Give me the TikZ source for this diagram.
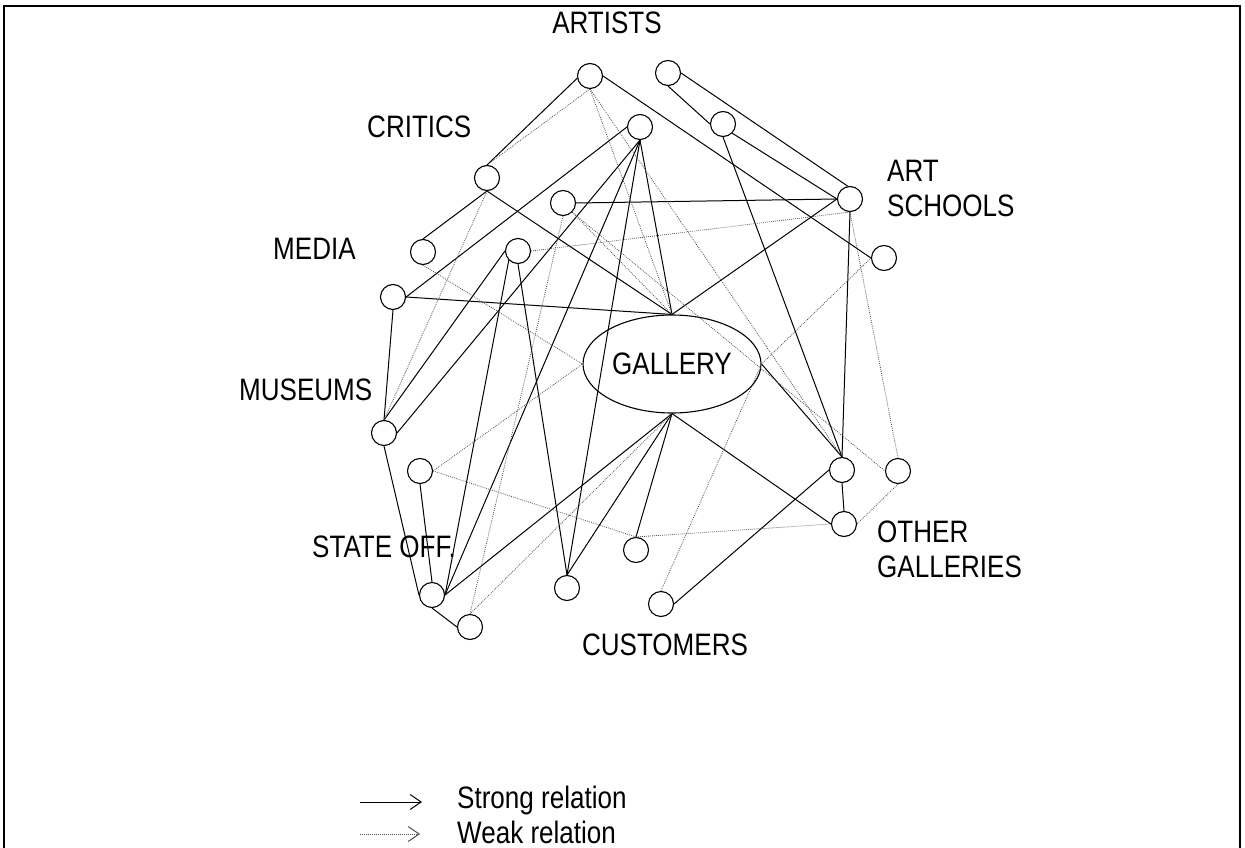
\documentclass[tikz,border=0pt]{standalone}
\usepackage{fontspec}
\setmainfont{Liberation Sans}[FakeStretch=0.84]
\usetikzlibrary{arrows.meta,shapes.geometric}

\begin{document}
\begin{tikzpicture}[x=1pt,y=-1pt,
  actor/.style={circle,draw,line width=1.1pt,minimum size=25pt,inner sep=0pt},
  hub/.style={ellipse,draw,line width=1.1pt,minimum width=178pt,minimum height=98pt,inner sep=0pt,
    font=\fontsize{31}{35}\selectfont},
  strong/.style={line width=1pt},
  weak/.style={line width=0.8pt,dash pattern=on 0.8pt off 1.2pt,black!70},
  lbl/.style={font=\fontsize{31}{35}\selectfont,inner sep=0pt}]
\useasboundingbox (0,0) rectangle (1245,848);

% frame
\draw[line width=2pt] (4,848) -- (4,6) -- (1240,6) -- (1240,848);

% the gallery
\node[hub] (G) at (672,364) {GALLERY};

% artists
\node[actor] (A1) at (590,76) {};
\node[actor] (A2) at (668,73) {};
\node[actor] (A3) at (723,124) {};
\node[actor] (A4) at (640,127) {};
% art schools
\node[actor] (AS1) at (850,199) {};
\node[actor] (AS2) at (884,258) {};
% critics
\node[actor] (C1) at (487,178) {};
\node[actor] (C2) at (563,203) {};
% media
\node[actor] (M1) at (423,252) {};
\node[actor] (M2) at (518,251) {};
\node[actor] (M3) at (393,297) {};
% museums
\node[actor] (MU1) at (384,433) {};
\node[actor] (MU2) at (420,471) {};
% state officials
\node[actor] (SO1) at (432,595) {};
\node[actor] (SO2) at (470,627) {};
% customers
\node[actor] (CU1) at (567,588) {};
\node[actor] (CU2) at (636,550) {};
\node[actor] (CU3) at (661,604) {};
% other galleries
\node[actor] (OG1) at (842,470) {};
\node[actor] (OG2) at (898,471) {};
\node[actor] (OG3) at (844,524) {};

% group labels (base anchor of a two-line label sits on its last line)
\node[lbl,anchor=base] (tArtists) at (607,34) {ARTISTS};
\node[lbl,anchor=base west] (tCritics) at (367,138) {CRITICS};
\node[lbl,anchor=base west,align=left] (tSchools) at (887,216) {ART\\SCHOOLS};
\node[lbl,anchor=base west] (tMedia) at (273,259) {MEDIA};
\node[lbl,anchor=base west] (tMuseums) at (239,400) {MUSEUMS};
\node[lbl,anchor=base west] (tState) at (312,557) {STATE OFF.};
\node[lbl,anchor=base west,align=left] (tOther) at (877,577) {OTHER\\GALLERIES};
\node[lbl,anchor=base] (tCustomers) at (665,655) {CUSTOMERS};

% strong relations
\draw[strong] (A1.190) -- (C1.north);
\draw[strong] (A1.east) -- (AS2.west);
\draw[strong] (A2.south) -- (A3.west);
\draw[strong] (A2.east) -- (AS1.100);
\draw[strong] (A3.south east) -- (AS1.west);
\draw[strong] (A3.south) -- (OG1.north);
\draw[strong] (A4.west) -- (M3.east);
\draw[strong] (A4.south) -- (MU1.east);
\draw[strong] (A4.south) -- (SO1.east);
\draw[strong] (A4.south) -- (CU1.north);
\draw[strong] (A4.south) -- (G.north);
\draw[strong] (C1.south) -- (M1.north);
\draw[strong] (C1.south) -- (G.north);
\draw[strong] (C2.east) -- (AS1.west);
\draw[strong] (M3.east) -- (G.north);
\draw[strong] (AS1.west) -- (G.north);
\draw[strong] (AS1.south) -- (OG1.north);
\draw[strong] (M3.south) -- (MU1.north);
\draw[strong] (MU1.north) -- (M2.west);
\draw[strong] (MU1.south) -- (SO1.west);
\draw[strong] (MU2.south) -- (SO1.north);
\draw[strong] (SO1.south) -- (SO2.west);
\draw[strong] (SO1.east) -- (M2.south west);
\draw[strong] (M2.south) -- (CU1.north);
\draw[strong] (G.south) -- (SO1.east);
\draw[strong] (G.south) -- (CU1.north);
\draw[strong] (G.south) -- (CU2.north);
\draw[strong] (G.south) -- (OG3.west);
\draw[strong] (G.east) -- (OG1.north);
\draw[strong] (OG1.south) -- (OG3.north);
\draw[strong] (OG1.west) -- (CU3.east);

% weak relations
\draw[weak] (A1.south) -- (C1.north);
\draw[weak] (A1.south) -- (G.north);
\draw[weak] (A1.south) -- (OG1.north);
\draw[weak] (C1.south) -- (MU1.north);
\draw[weak] (C2.south east) -- (G.north);
\draw[weak] (C2.south east) -- (OG2.west);
\draw[weak] (C2.south) -- (SO2.north);
\draw[weak] (M1.south) -- (G.west);
\draw[weak] (MU2.east) -- (G.west);
\draw[weak] (MU2.east) -- (CU2.north);
\draw[weak] (M2.east) -- (AS1.south);
\draw[weak] (AS1.south) -- (OG2.north);
\draw[weak] (AS2.west) -- (G.east);
\draw[weak] (CU3.north) -- (G.east);
\draw[weak] (G.south) -- (SO2.north);
\draw[weak] (CU2.north) -- (OG3.west);
\draw[weak] (OG2.south) -- (OG3.east);

% legend
\coordinate (sFrom) at (360,802);
\coordinate (sTo) at (422,802);
\coordinate (wFrom) at (360,834);
\coordinate (wTo) at (420,834);
\draw[strong,-{Straight Barb[length=11pt,width=15pt,line width=1pt]}] (sFrom) -- (sTo);
\draw[weak,-{Straight Barb[length=11pt,width=15pt,line width=1pt]}] (wFrom) -- (wTo);
\node[lbl,anchor=base west] (tStrong) at (457,808) {Strong relation};
\node[lbl,anchor=base west] (tWeak) at (457,843) {Weak relation};
\end{tikzpicture}
\end{document}
